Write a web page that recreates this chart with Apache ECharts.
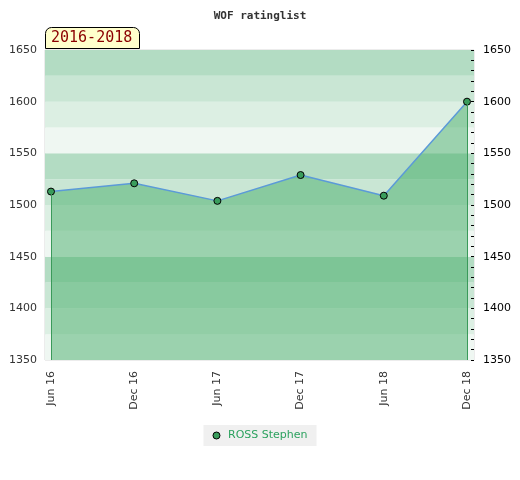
<!DOCTYPE html>
<html>
<head>
<meta charset="utf-8">
<script src="https://cdn.jsdelivr.net/npm/echarts@6/dist/echarts.min.js"></script>
<style>
  html, body { margin: 0; padding: 0; background: #fff; }
  #chart { width: 520px; height: 480px; }
</style>
</head>
<body>
<div id="chart"></div>
<script>
const periods = ["Jun 16", "Dec 16", "Jun 17", "Dec 17", "Jun 18", "Dec 18"];
const ratings = [1513, 1521, 1504, 1529, 1509, 1600];
const playerName = "ROSS Stephen";
const yMin = 1350;
const yMax = 1650;
const bandColors = ["#eff7f2", "#dcefe3", "#c9e6d4", "#b3dcc3"];

const points = ratings.map((v, i) => [i, v]);
const last = ratings.length - 1;

const c = echarts.init(document.getElementById("chart"));
c.setOption({
  animation: false,
  title: [
    {
      text: "WOF ratinglist",
      left: "center",
      top: 6,
      textStyle: { fontFamily: "DejaVu Sans Mono", fontSize: 11, fontWeight: "bold", color: "#333" }
    },
    {
      text: "2016-2018",
      left: 45,
      top: 27,
      padding: [4, 7, 3, 6],
      backgroundColor: "#ffffcc",
      borderColor: "#000",
      borderWidth: 1,
      borderRadius: [6, 6, 0, 0],
      textStyle: { fontFamily: "DejaVu Sans Mono", fontSize: 15, fontWeight: "normal", color: "#8b0000" }
    }
  ],
  legend: {
    top: 425,
    left: "center",
    icon: "circle",
    itemWidth: 7,
    itemHeight: 7,
    itemGap: 6,
    padding: [5, 9, 5, 9],
    backgroundColor: "#f0f0f0",
    itemStyle: { borderWidth: 1, borderColor: "#000" },
    textStyle: { fontFamily: "DejaVu Sans", fontSize: 11, color: "#2ca25f", padding: [0, 0, 0, 3] },
    data: [playerName]
  },
  grid: { left: 45, right: 46, top: 50, bottom: 120, show: true, borderColor: "#d9d9d9", borderWidth: 1 },
  xAxis: {
    type: "value",
    min: -0.072,
    max: last + 0.084,
    axisLine: { show: false },
    axisTick: { show: false },
    splitLine: { show: false },
    axisLabel: {
      customValues: periods.map((_, i) => i),
      formatter: v => periods[Math.round(v)],
      rotate: 90,
      margin: 11,
      fontFamily: "DejaVu Sans",
      fontSize: 11,
      color: "#333"
    }
  },
  yAxis: [
    {
      type: "value",
      position: "left",
      min: yMin,
      max: yMax,
      interval: 50,
      axisLine: { show: false },
      axisTick: { show: false },
      splitLine: { show: false },
      axisLabel: { formatter: v => String(v), margin: 8, fontFamily: "DejaVu Sans", fontSize: 11, color: "#333" }
    },
    {
      type: "value",
      position: "right",
      min: yMin,
      max: yMax,
      interval: 10,
      axisLine: { show: false },
      axisTick: { show: true, inside: true, length: 3, lineStyle: { color: "#000" } },
      splitLine: { show: false },
      axisLabel: {
        formatter: v => (v % 50 === 0 ? String(v) : ""),
        margin: 9,
        fontFamily: "DejaVu Sans",
        fontSize: 11,
        color: "#000"
      }
    },
    {
      // background bands only
      type: "value",
      position: "left",
      min: yMin,
      max: yMax,
      interval: 25,
      axisLine: { show: false },
      axisTick: { show: false },
      axisLabel: { show: false },
      splitLine: { show: false },
      splitArea: { show: true, areaStyle: { color: bandColors } }
    }
  ],
  series: [
    {
      name: playerName,
      type: "line",
      yAxisIndex: 0,
      data: points,
      symbol: "circle",
      symbolSize: 7,
      itemStyle: { color: "#3a9d5c", borderColor: "#000", borderWidth: 1 },
      lineStyle: { color: "#5b9ad8", width: 1.5 },
      areaStyle: { color: "#47ae69", opacity: 0.5, origin: "start" },
      markLine: {
        silent: true,
        symbol: "none",
        label: { show: false },
        lineStyle: { color: "#3a9a5a", width: 1, type: "solid" },
        data: [
          [{ coord: [0, ratings[0]] }, { coord: [0, yMin] }],
          [{ coord: [last, ratings[last]] }, { coord: [last, yMin] }]
        ]
      }
    }
  ]
});
window.addEventListener("resize", () => c.resize());
</script>
</body>
</html>
